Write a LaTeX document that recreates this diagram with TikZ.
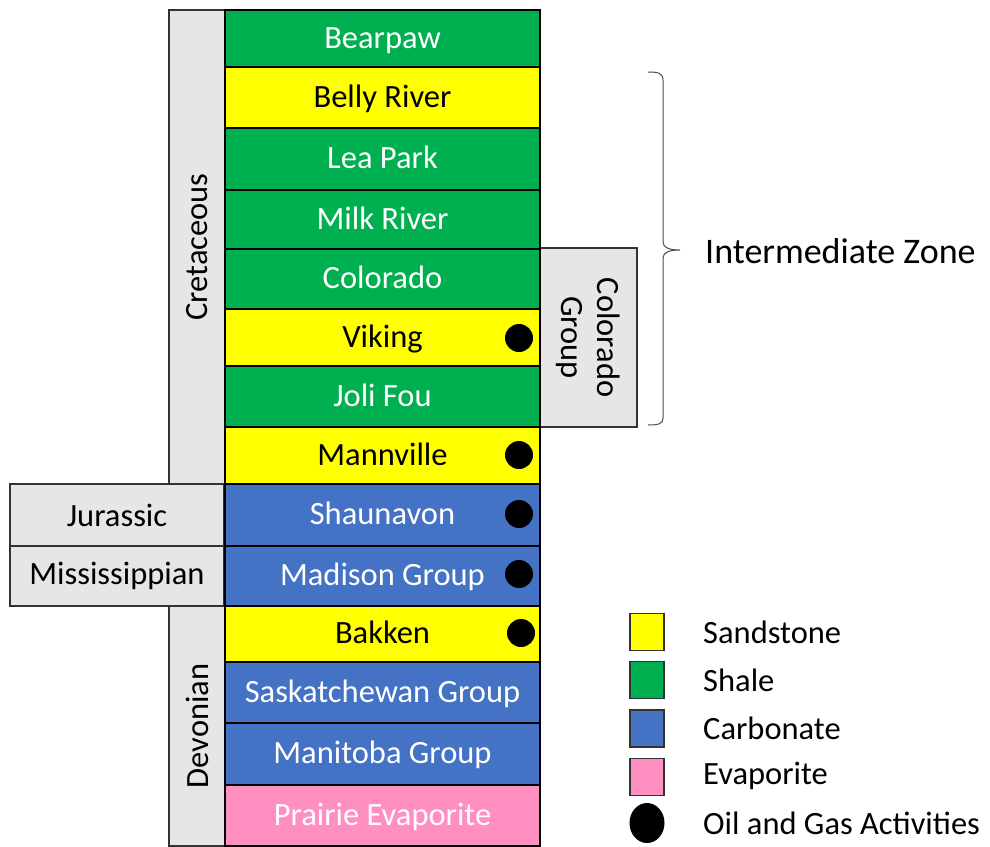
\documentclass[tikz,border=0pt]{standalone}
\usepackage{fontspec}
\setmainfont{Carlito}
\usetikzlibrary{shapes.geometric}
\definecolor{shale}{HTML}{00B050}
\definecolor{sand}{HTML}{FFFF00}
\definecolor{carb}{HTML}{4472C4}
\definecolor{evap}{HTML}{FF8FC0}
\definecolor{agebox}{HTML}{E6E6E6}
\begin{document}
\begin{tikzpicture}[x=1pt,y=-1pt,
  every node/.style={font=\fontsize{32.5}{36}\selectfont},
  layer/.style={draw=black,line width=1.5pt,inner sep=0pt,outer sep=0pt,minimum width=315pt,text height=26pt,text depth=6.5pt},
  age/.style={draw=black!80,fill=agebox,line width=1.3pt,inner sep=0pt,outer sep=0pt},
  dot/.style={circle,fill=black,inner sep=0pt,minimum size=28pt},
  legbox/.style={draw=black!80,line width=1.3pt,inner sep=0pt,minimum width=34pt,minimum height=37pt},
  legtext/.style={anchor=west,inner sep=0pt}]
\useasboundingbox (0,0) rectangle (990,846);
% age boxes
\node[age,minimum width=56pt,minimum height=474pt] (cret) at (197,247) {};
\node[rotate=90] (cretl) at (cret.center) {Cretaceous};
\node[age,minimum width=56pt,minimum height=240pt] (dev) at (197,726) {};
\node[rotate=90] (devl) at (dev.center) {Devonian};
\node[age,minimum width=214pt,minimum height=62pt] (jur) at (117,515) {Jurassic};
\node[age,minimum width=214pt,minimum height=60pt] (mis) at (117,576) {Mississippian};
\node[age,minimum width=97pt,minimum height=179pt] (cgrp) at (588.5,337.5) {};
\node[rotate=-90,align=center,font=\fontsize{32.5}{36}\selectfont] (cgrpl) at (cgrp.center) {Colorado\\Group};
% layers
\node[layer,fill=shale,text=white,minimum height=57pt] (bearpaw) at (382.5,38.5) {Bearpaw};
\node[layer,fill=sand,minimum height=61pt] (belly) at (382.5,97.5) {Belly River};
\node[layer,fill=shale,text=white,minimum height=62pt] (lea) at (382.5,159) {Lea Park};
\node[layer,fill=shale,text=white,minimum height=59pt] (milk) at (382.5,219.5) {Milk River};
\node[layer,fill=shale,text=white,minimum height=60pt] (colo) at (382.5,279) {Colorado};
\node[layer,fill=sand,minimum height=57pt] (viking) at (382.5,337.5) {Viking};
\node[layer,fill=shale,text=white,minimum height=61pt] (joli) at (382.5,396.5) {Joli Fou};
\node[layer,fill=sand,minimum height=57pt] (mann) at (382.5,455.5) {Mannville};
\node[layer,fill=carb,text=white,minimum height=62pt] (shau) at (382.5,515) {Shaunavon};
\node[layer,fill=carb,text=white,minimum height=60pt] (madi) at (382.5,576) {Madison Group};
\node[layer,fill=sand,minimum height=56pt] (bakk) at (382.5,634) {Bakken};
\node[layer,fill=carb,text=white,minimum height=61pt] (sask) at (382.5,692.5) {Saskatchewan Group};
\node[layer,fill=carb,text=white,minimum height=62pt] (mani) at (382.5,754) {Manitoba Group};
\node[layer,fill=evap,text=white,minimum height=61pt] (prai) at (382.5,815.5) {Prairie Evaporite};
% dots
\node[dot] (d1) at (519,338) {};
\node[dot] (d2) at (519,455) {};
\node[dot] (d3) at (519,514) {};
\node[dot] (d4) at (519,574) {};
\node[dot] (d5) at (521,633) {};
% brace
\draw[line width=1pt,black!70] (648,72) .. controls (658,72) and (663,73) .. (663,80) -- (663,242) .. controls (663,248) and (670,250) .. (680,250)
  .. controls (670,250) and (663,252) .. (663,258) -- (663,418) .. controls (663,424) and (658,425) .. (648,425);
\node[anchor=base west,inner sep=0pt,font=\fontsize{36}{40}\selectfont] (iz) at (705,263) {Intermediate Zone};
% legend
\node[legbox,fill=sand] (ls) at (647,632) {};
\node[legbox,fill=shale] (lsh) at (647,680) {};
\node[legbox,fill=carb] (lc) at (647,728.5) {};
\node[legbox,fill=evap] (le) at (647,777) {};
\node[ellipse,fill=black,inner sep=0pt,minimum width=35pt,minimum height=40pt] (lo) at (647,823) {};
\node[legtext] (lst) at (703,632) {Sandstone};
\node[legtext] (lsht) at (703,680) {Shale};
\node[legtext] (lct) at (703,728) {Carbonate};
\node[legtext] (let) at (703,776) {Evaporite};
\node[legtext] (lot) at (703,823) {Oil and Gas Activities};
\end{tikzpicture}
\end{document}
